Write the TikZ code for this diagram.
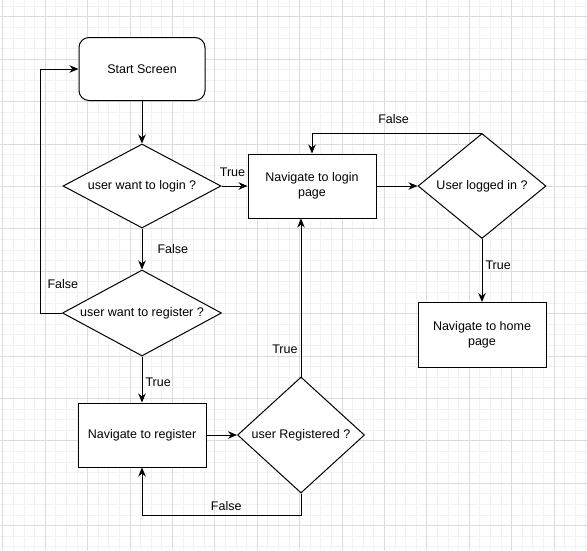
\documentclass[tikz,border=0pt]{standalone}
\usepackage{fontspec}
\setmainfont{Liberation Sans}
\usetikzlibrary{positioning,shapes.geometric,arrows.meta}
\definecolor{gridmajor}{HTML}{DCDCDC}
\definecolor{gridminor}{HTML}{F2F2F2}

\begin{document}
\begin{tikzpicture}[x=1pt,y=-1pt,
    font=\fontsize{12.5}{15}\selectfont,
    box/.style={draw,fill=white,line width=1pt,minimum width=128,minimum height=64,align=center,inner sep=2pt},
    decision/.style={draw,fill=white,diamond,line width=1pt,inner sep=0pt,aspect=1.9},
    arr/.style={line width=1pt,-{Stealth[length=9pt,width=7.5pt]}},
    lbl/.style={inner sep=3pt}]
    \useasboundingbox (0,0) rectangle (587,550);
    % background grid
    \foreach \i in {0,...,55}
      \draw[gridminor,line width=0.7pt] ({2.7+10.6*\i},0) -- ({2.7+10.6*\i},550);
    \foreach \i in {0,...,51}
      \draw[gridminor,line width=0.7pt] (0,{6.1+10.6*\i}) -- (587,{6.1+10.6*\i});
    \foreach \i in {0,...,13}
      \draw[gridmajor,line width=0.8pt] ({2.7+42.4*\i},0) -- ({2.7+42.4*\i},550);
    \foreach \i in {0,...,12}
      \draw[gridmajor,line width=0.8pt] (0,{16.7+42.4*\i}) -- (587,{16.7+42.4*\i});

    \node[box,rounded corners=10pt,minimum width=126,minimum height=63] (start) at (142,69) {Start Screen};
    \node[decision,minimum width=158,minimum height=84] (wantlogin) at (142,186) {user want to login ?};
    \node[decision,minimum width=159,minimum height=86] (wantreg) at (142,313) {user want to register ?};
    \node[box] (navreg) at (142,435) {Navigate to register};
    \node[decision,minimum width=127,minimum height=116] (registered) at (301,435) {user Registered ?};
    \node[box] (navlogin) at (312,186) {Navigate to login\\page};
    \node[decision,minimum width=128,minimum height=105] (loggedin) at (482,186) {User logged in ?};
    \node[box,minimum height=65] (navhome) at (482,335) {Navigate to home\\page};

    \draw[arr] (start) -- (wantlogin);
    \draw[arr] (wantlogin) -- node[lbl,above=6pt,xshift=-2pt]{True} (navlogin);
    \draw[arr] (wantlogin) -- node[lbl,right=12pt]{False} (wantreg);
    \draw[arr] (wantreg.west) -- +(-22,0) |- node[lbl,pos=0.06,right=4pt]{False} (start.west);
    \draw[arr] (wantreg) -- node[lbl,pos=0.55,right]{True} (navreg);
    \draw[arr] (navreg) -- (registered);
    \draw[arr] (registered.north) -- node[lbl,pos=0.17,left]{True} (registered.north |- navlogin.south);
    \draw[arr] (registered.south) -- +(0,22) -| node[lbl,pos=0.235,above=1pt]{False} (navreg.south);
    \draw[arr] (navlogin) -- (loggedin);
    \draw[arr] (loggedin.north) -| node[lbl,pos=0.26,above=6pt]{False} (navlogin.north);
    \draw[arr] (loggedin) -- node[lbl,pos=0.42,right]{True} (navhome);
\end{tikzpicture}
\end{document}
